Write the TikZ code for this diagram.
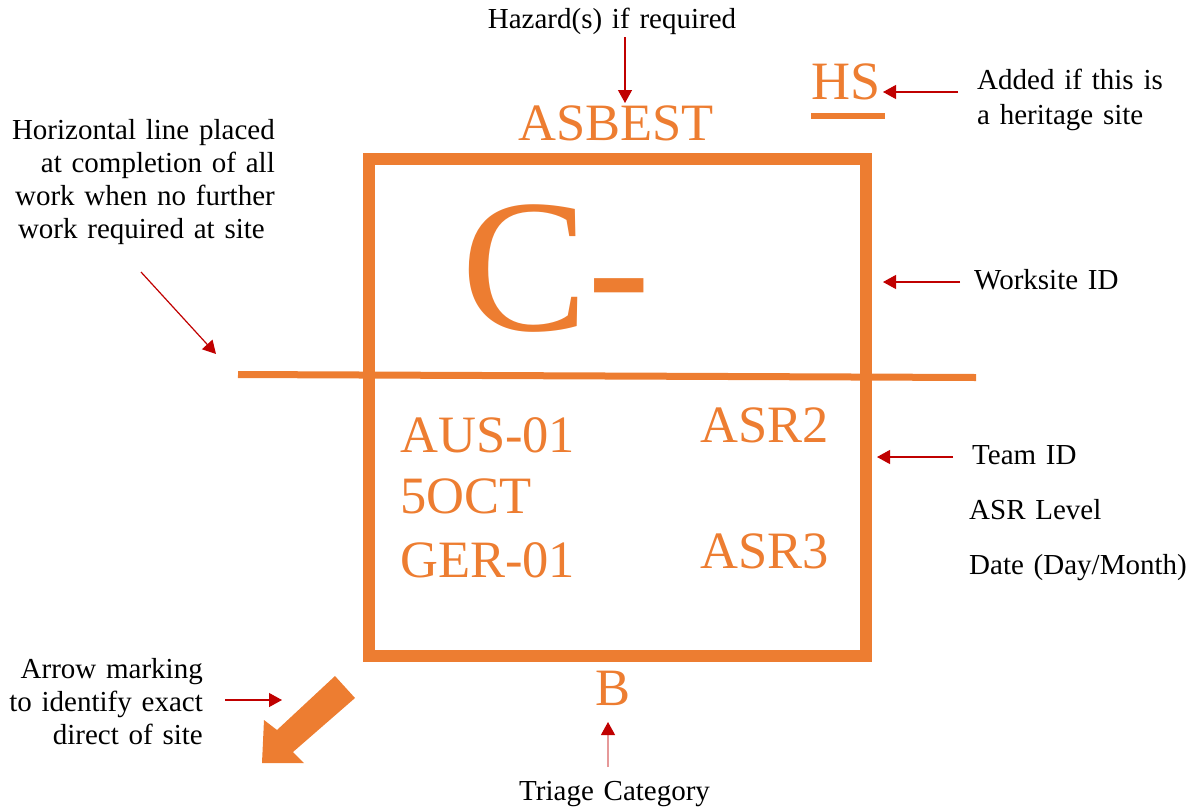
\documentclass[tikz,border=0pt]{standalone}
\usepackage{fontspec}
\setmainfont{Liberation Serif}
\newfontfamily\notefamily[WordSpace=1.35]{Liberation Serif}
\usetikzlibrary{arrows.meta}
\definecolor{siteorange}{HTML}{ED7D31}
\definecolor{notered}{HTML}{C00000}
\newcommand{\sitefont}{\fontsize{52.5}{62}\selectfont}
\newcommand{\notefont}{\notefamily\fontsize{29}{33}\selectfont}
\newcommand{\pointto}[2]{\draw[pointer] (#1) -- (#2);}
\tikzset{
  sitetext/.style={text=siteorange, font=\sitefont, inner sep=0pt},
  notetext/.style={text=black, font=\notefont, inner sep=0pt},
  pointer/.style={draw=notered, line width=1.2pt, -{Triangle[length=13pt,width=14pt]}},
  siteline/.style={draw=siteorange, line width=#1},
}

\begin{document}
\begin{tikzpicture}[x=1pt,y=-1pt]
        \useasboundingbox (0,0) rectangle (1198,809);
        % the marking box and the completion line
        \draw[siteline=12.5pt] (369,159) rectangle (866,656);
        \draw[siteline=7pt] (238,374.5) -- (976,377.5);
        % orange markings
        \node[sitetext, anchor=base] (asbest) at (616,140) {ASBEST};
        \node[sitetext, anchor=base west, font=\fontsize{54}{60}\selectfont] (hs) at (811,99) {HS};
        \draw[siteline=6pt] (811,116) -- (885,116);
        \node[sitetext, anchor=base west, font=\fontsize{190}{190}\selectfont] (siteid) at (461,330) {C-};
        \node[sitetext, anchor=base west] (teamone) at (400,452) {AUS-01};
        \node[sitetext, anchor=base west] (day) at (400,513) {5OCT};
        \node[sitetext, anchor=base west] (teamtwo) at (400,577) {GER-01};
        \node[sitetext, anchor=base west] (levelone) at (700,442) {ASR2};
        \node[sitetext, anchor=base west] (leveltwo) at (700,568) {ASR3};
        \node[sitetext, anchor=base] (triage) at (613,705) {B};
        \fill[siteorange] (335,676) -- (355,698) -- (293,752) -- (304,763) -- (262,763) -- (264,720) -- (277,730) -- cycle;
        % notes
        \node[notetext, anchor=base] (hazardnote) at (612,28) {Hazard(s) if required};
        \node[notetext, anchor=base west, align=left] (heritagenote) at (977,124) {Added if this is\\[2pt]a heritage site};
        \node[notetext, anchor=base east, align=right] (linenote) at (275,238) {Horizontal line placed\\at completion of all\\work when no further\\work required at site\hspace*{10pt}};
        \node[notetext, anchor=base west] (siteidnote) at (974,289) {Worksite ID};
        \node[notetext, anchor=base west] (teamnote) at (972,464) {Team ID};
        \node[notetext, anchor=base west] (levelnote) at (969,519) {ASR Level};
        \node[notetext, anchor=base west] (datenote) at (969,574) {Date (Day/Month)};
        \node[notetext, anchor=base east, align=right] (arrownote) at (203,744) {Arrow marking\\to identify exact\\direct of site};
        \node[notetext, anchor=base west] (triagenote) at (519,800) {Triage Category};
        % pointers
        \coordinate (hazardtail) at (625,37);
        \coordinate (hazardtip) at (625,103);
        \coordinate (hstail) at (958,92);
        \coordinate (hstip) at (883,92);
        \coordinate (linetail) at (141,272);
        \coordinate (linetip) at (216,354);
        \coordinate (siteidtail) at (960,282);
        \coordinate (siteidtip) at (883,282);
        \coordinate (teamtail) at (953,457);
        \coordinate (teamtip) at (877,457);
        \coordinate (arrowtail) at (225,700);
        \coordinate (arrowtip) at (282,700);
        \coordinate (triagetail) at (608,767);
        \coordinate (triagetip) at (608,722);
        \pointto{hazardtail}{hazardtip}
        \pointto{hstail}{hstip}
        \pointto{linetail}{linetip}
        \pointto{siteidtail}{siteidtip}
        \pointto{teamtail}{teamtip}
        \pointto{arrowtail}{arrowtip}
        \draw[pointer, draw=notered!40, -{Triangle[length=13pt,width=14pt,color=notered]}] (triagetail) -- (triagetip);
    \end{tikzpicture}
\end{document}
